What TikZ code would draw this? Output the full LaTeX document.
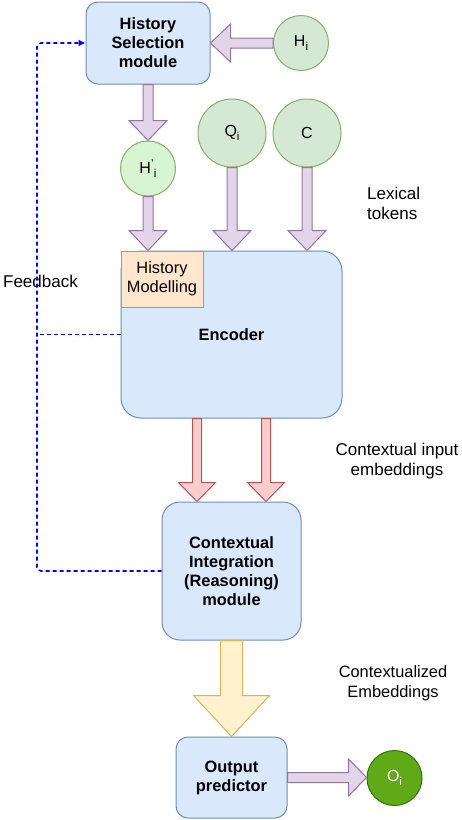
\documentclass[tikz,border=0pt]{standalone}
\usepackage{fontspec}
\setmainfont{Liberation Sans}
\usetikzlibrary{calc,arrows.meta}
\definecolor{bfill}{HTML}{DAE8FC}
\definecolor{bdraw}{HTML}{6C8EBF}
\definecolor{pfill}{HTML}{E1D5E7}
\definecolor{pdraw}{HTML}{9673A6}
\definecolor{rfill}{HTML}{F8CECC}
\definecolor{rdraw}{HTML}{B85450}
\definecolor{yfill}{HTML}{FFF2CC}
\definecolor{ydraw}{HTML}{D6B656}
\definecolor{gfill}{HTML}{D5E8D4}
\definecolor{gdraw}{HTML}{82B366}
\definecolor{lgfill}{HTML}{D6F5D0}
\definecolor{ofill}{HTML}{FFE6CC}
\definecolor{odraw}{HTML}{D79B00}
\definecolor{dgfill}{HTML}{60A917}
\definecolor{dgdraw}{HTML}{2D7600}
\newcommand\sbi{\raisebox{-3.5pt}{\fontsize{11.5}{12}\selectfont i}}
\newcommand\blkdown[6]{%
  \draw[#1] let \p1=(#2), \p2=(#3) in
  (\x1-#4pt,\y1) -- (\x1-#4pt,\y2+#6pt) -- (\x1-#5pt,\y2+#6pt) -- (\x1,\y2)
  -- (\x1+#5pt,\y2+#6pt) -- (\x1+#4pt,\y2+#6pt) -- (\x1+#4pt,\y1) -- cycle;}
\newcommand\blkleft[6]{%
  \draw[#1] let \p1=(#2), \p2=(#3) in
  (\x1,\y1+#4pt) -- (\x2+#6pt,\y1+#4pt) -- (\x2+#6pt,\y1+#5pt) -- (\x2,\y1)
  -- (\x2+#6pt,\y1-#5pt) -- (\x2+#6pt,\y1-#4pt) -- (\x1,\y1-#4pt) -- cycle;}
\newcommand\blkright[6]{%
  \draw[#1] let \p1=(#2), \p2=(#3) in
  (\x1,\y1+#4pt) -- (\x2-#6pt,\y1+#4pt) -- (\x2-#6pt,\y1+#5pt) -- (\x2,\y1)
  -- (\x2-#6pt,\y1-#5pt) -- (\x2-#6pt,\y1-#4pt) -- (\x1,\y1-#4pt) -- cycle;}
\begin{document}
\begin{tikzpicture}[x=1pt,y=-1pt,
  box/.style={draw=bdraw, fill=bfill, line width=1pt, align=center, inner sep=0pt,
    font=\fontsize{16.4}{19}\selectfont\bfseries},
  circ/.style={circle, draw=gdraw, fill=gfill, line width=1pt, inner sep=0pt,
    font=\fontsize{16}{19}\selectfont},
  hmbox/.style={draw=odraw, fill=ofill, line width=1pt, align=center, inner sep=0pt,
    font=\fontsize{16.4}{19}\selectfont},
  lbl/.style={align=center, inner sep=0pt, font=\fontsize{17}{20}\selectfont},
  parrow/.style={draw=pdraw, fill=pfill, line width=1pt},
  rarrow/.style={draw=rdraw, fill=rfill, line width=1pt},
  yarrow/.style={draw=ydraw, fill=yfill, line width=1pt},
  fbline/.style={draw=blue, line width=1.6pt, dash pattern=on 4pt off 3pt},
  fbthin/.style={draw=blue, line width=1pt, dash pattern=on 4pt off 3pt}]
\useasboundingbox (0,0) rectangle (462,820);
% nodes
\node[box, minimum width=124pt, minimum height=82pt, rounded corners=12pt] (hs) at (148,43) {History\\Selection\\module};
\node[circ, minimum size=55pt] (hi) at (301,43) {H\sbi};
\node[circ, fill=lgfill, minimum size=55pt] (hpi) at (148,168.5) {H\textsuperscript{'}\sbi};
\node[circ, minimum size=68pt] (qi) at (232,133) {Q\sbi};
\node[circ, minimum size=68pt] (c) at (307,133) {C};
\node[box, minimum width=221pt, minimum height=167pt, rounded corners=20pt] (enc) at (231.5,334.5) {Encoder};
\node[hmbox, minimum width=82pt, minimum height=56pt, anchor=north west] (hm) at (enc.north west) {History\\Modelling};
\node[box, minimum width=139pt, minimum height=138pt, rounded corners=18pt] (ci) at (231.5,571) {Contextual\\Integration\\(Reasoning)\\module};
\node[box, minimum width=111pt, minimum height=81pt, rounded corners=12pt] (op) at (231.5,777.5) {Output\\predictor};
\node[circle, draw=dgdraw, fill=dgfill, line width=1pt, minimum size=55pt, inner sep=0pt, text=white,
  font=\fontsize{16}{19}\selectfont] (oi) at (394.5,778) {O\sbi};
% labels
\node[lbl, align=left, anchor=west] (lex) at (367,203) {Lexical\\tokens};
\node[lbl] (cie) at (397,461) {Contextual input\\embeddings};
\node[lbl, font=\fontsize{16.4}{20}\selectfont] (ce) at (393,683) {Contextualized\\Embeddings};
\node[lbl, anchor=east] (fb) at (78,281) {Feedback};
% coordinates
\coordinate (e1) at ($(enc.south)+(-34.5,0)$);
\coordinate (e2) at ($(enc.south)+(34.5,0)$);
\coordinate (fbc) at (37,570);
% block arrows
\blkleft{parrow}{hi.west}{hs.east}{5}{19}{20}
\blkdown{parrow}{hs.south}{hpi.north}{5}{19}{20}
\blkdown{parrow}{hpi.south}{enc.north}{5}{19}{20}
\blkdown{parrow}{qi.south}{enc.north}{5}{19}{20}
\blkdown{parrow}{c.south}{enc.north}{5}{19}{20}
\blkdown{rarrow}{e1}{ci.north}{4.5}{18.5}{19}
\blkdown{rarrow}{e2}{ci.north}{4.5}{18.5}{19}
\blkdown{yarrow}{ci.south}{op.north}{11}{38}{41}
\blkright{parrow}{op.east}{oi.west}{5}{18.5}{18}
% feedback
\draw[fbline, rounded corners=4pt, -{Latex[length=7pt,width=7pt]}] (ci.west) -- (ci.west -| fbc) -- (fbc |- hs.west) -- (hs.west);
\draw[fbthin] (enc.west) -- (enc.west -| fbc);
\end{tikzpicture}
\end{document}
